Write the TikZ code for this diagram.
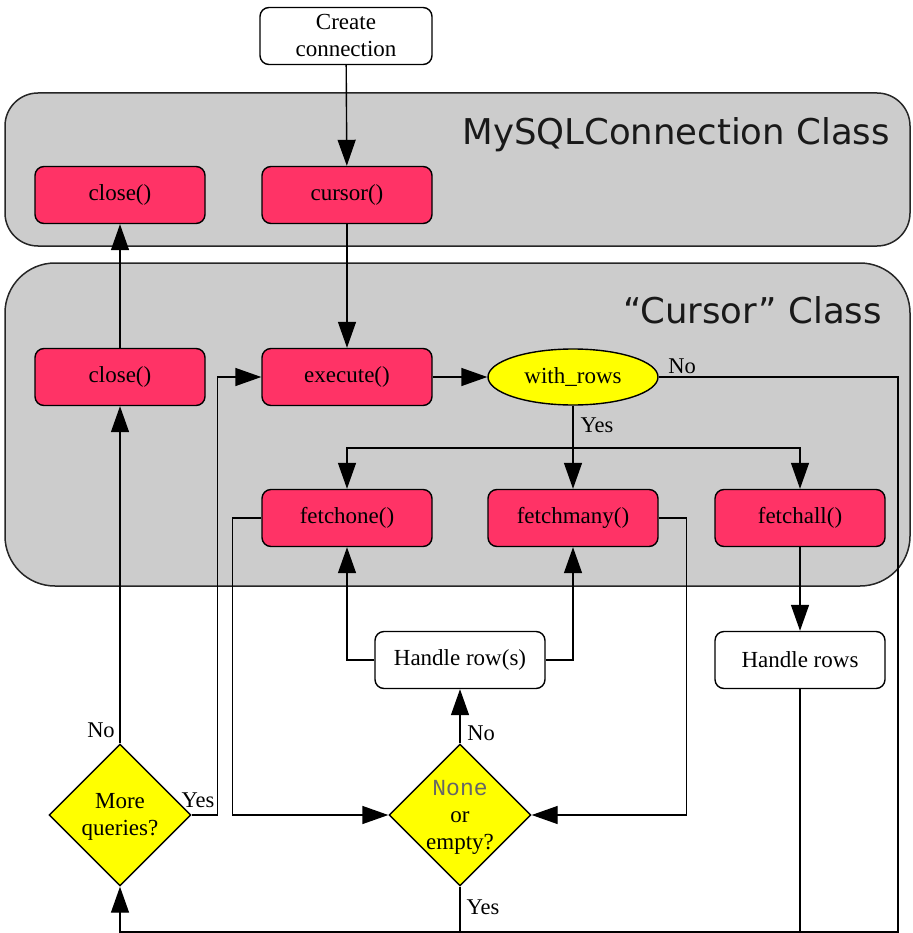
\documentclass[tikz,border=0pt]{standalone}
\usepackage{fontspec}
\setmainfont{Liberation Serif}
\newfontfamily\titlefont{DejaVu Sans}
\newfontfamily\codefont{Liberation Mono}
\usetikzlibrary{arrows.meta,shapes.geometric}

\definecolor{methodred}{RGB}{255,51,102}
\definecolor{classgray}{RGB}{204,204,204}
\definecolor{decyellow}{RGB}{255,255,0}

\begin{document}
\begin{tikzpicture}[x=1pt,y=-1pt,
  every node/.style={font=\fontsize{23}{27}\selectfont},
  classbox/.style={draw=black!85, fill=classgray, line width=1.5pt},
  classtitle/.style={anchor=base east, inner sep=0pt, text=black!90,
    font=\titlefont\fontsize{35.5}{40}\selectfont},
  method/.style={draw, fill=methodred, rounded corners=9pt, minimum width=170pt,
    minimum height=57pt, inner sep=0pt, line width=1.4pt},
  plainbox/.style={draw, fill=white, rounded corners=9pt, minimum width=170pt,
    minimum height=57pt, inner sep=0pt, line width=1.4pt},
  decision/.style={diamond, draw, fill=decyellow, minimum width=142pt,
    minimum height=142pt, inner sep=0pt, line width=1.4pt},
  test/.style={ellipse, draw, fill=decyellow, minimum width=170pt,
    minimum height=56pt, inner sep=0pt, line width=1.4pt},
  arr/.style={-{Triangle[length=26pt,width=18pt]}, line width=1.4pt},
  wire/.style={line width=1.4pt},
  lbl/.style={inner sep=0pt, font=\fontsize{22.5}{26}\selectfont}
]
\useasboundingbox (0,0) rectangle (912,933);

% class containers
\draw[classbox, rounded corners=33pt] (5,93) rectangle (910,246);
\draw[classbox, rounded corners=50pt] (5,263) rectangle (910,586);
\node[classtitle] (conntitle) at (890,145) {MySQLConnection Class};
\node[classtitle] (curtitle) at (882,323) {“Cursor” Class};

% nodes
\node[plainbox, minimum width=172pt, align=center] (create) at (346,36)
  {Create\\connection};
\node[method] (connclose) at (120,195) {close()};
\node[method] (cursor) at (347,195) {cursor()};
\node[method] (curclose) at (120,377) {close()};
\node[method] (exec) at (347,377) {execute()};
\node[test] (wr) at (573,377) {with\_rows};
\node[method] (fone) at (347,518) {fetchone()};
\node[method] (fmany) at (573,518) {fetchmany()};
\node[method] (fall) at (800,518) {fetchall()};
\node[plainbox] (hrow) at (460,660) {Handle row(s)};
\node[plainbox] (hrows) at (800,660) {Handle rows};
\node[decision] (mq) at (120,815) {};
\node[align=center, inner sep=0pt] (mqtext) at (120,817) {More\\queries?};
\node[decision] (none) at (460,815) {};
\node[align=center, inner sep=0pt] (nonetext) at (460,817)
  {{\codefont\color{black!60}None}\\or\\empty?};

% junction points
\coordinate (split) at (573,448);
\coordinate (bot) at (898,932);

% connectors
\draw[arr] (create) -- (cursor);
\draw[arr] (cursor) -- (exec);
\draw[arr] (exec) -- (wr);
\draw[arr] (wr) -- (fmany);
\draw[arr] (split) -| (fone.north);
\draw[arr] (split) -| (fall.north);
\draw[arr] (wr.east) -| (bot) -| (mq.south);
\draw[arr] (fall) -- (hrows);
\draw[wire] (hrows.south) -- (hrows.south |- bot);
\draw[wire] (none.south) -- (none.south |- bot);
\draw[arr] (none.north) -- (hrow.south);
\draw[arr] (hrow.west) -| (fone.south);
\draw[arr] (hrow.east) -| (fmany.south);
\draw[arr] (fone.west) -- ++(-29,0) |- (none.west);
\draw[arr] (fmany.east) -- ++(28,0) |- (none.east);
\draw[arr] (mq.east) -- ++(26,0) |- (exec.west);
\draw[arr] (mq.north) -- (curclose.south);
\draw[arr] (curclose) -- (connclose);

% branch labels
\node[lbl] (ywr) at (597,425) {Yes};
\node[lbl] (nwr) at (682,366) {No};
\node[lbl] (nmq) at (101,730) {No};
\node[lbl] (ymq) at (198,800) {Yes};
\node[lbl] (nnone) at (481,733) {No};
\node[lbl] (ynone) at (483,907) {Yes};
\end{tikzpicture}
\end{document}
